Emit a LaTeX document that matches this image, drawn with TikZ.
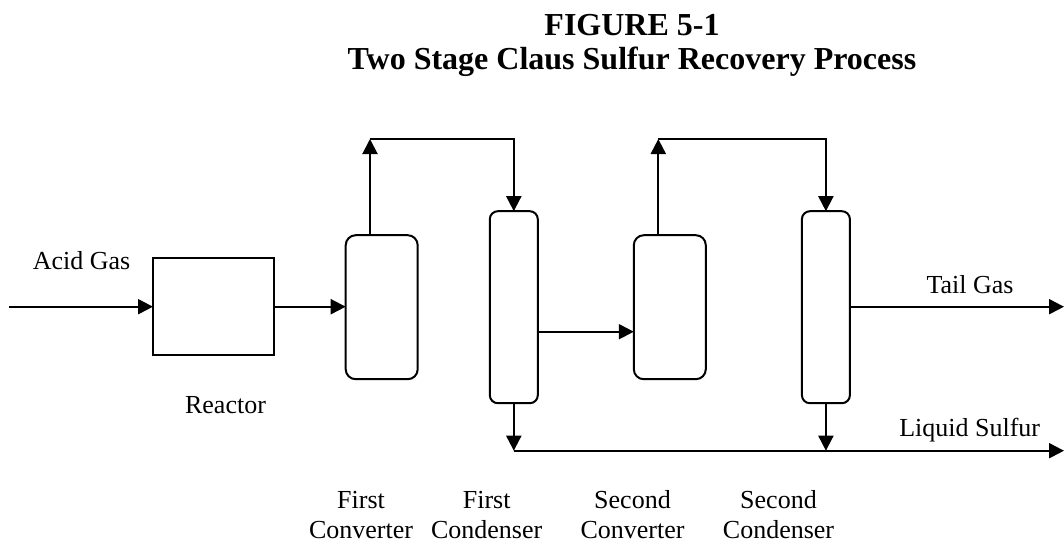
\documentclass[tikz,border=0pt]{standalone}
\usepackage{fontspec}
\setmainfont{Liberation Serif}
\usetikzlibrary{arrows.meta}
\tikzset{
  lbl/.style={font=\fontsize{26}{30}\selectfont, inner sep=0pt, anchor=base},
  ttl/.style={font=\fontsize{32}{34}\selectfont\bfseries, inner sep=0pt, anchor=base},
  vessel/.style={draw, line width=2pt, inner sep=0pt, outer sep=0pt},
  conv/.style={vessel, minimum width=72pt, minimum height=144pt, rounded corners=10pt},
  cond/.style={vessel, minimum width=48pt, minimum height=192pt, rounded corners=8pt},
  flow/.style={line width=2pt, -{Triangle[length=15pt,width=15pt]}},
  pipe/.style={line width=2pt}
}
\begin{document}
\begin{tikzpicture}[x=1pt,y=-1pt]
\useasboundingbox (0,0) rectangle (1064,542);
% title
\node[ttl] (t1) at (632,35) {FIGURE 5-1};
\node[ttl] (t2) at (632,69) {Two Stage Claus Sulfur Recovery Process};
% equipment
\node[vessel, minimum width=121pt, minimum height=97pt] (reactor) at (213.5,306.7) {};
\node[conv] (conv1) at (381.7,307.2) {};
\node[cond] (cond1) at (513.8,307.2) {};
\node[conv] (conv2) at (669.8,307.2) {};
\node[cond] (cond2) at (825.9,307.2) {};
% coordinates
\coordinate (feed) at (9,306.7);
\coordinate (top1) at (370,139);
\coordinate (top2) at (658.3,139);
\coordinate (tail) at (1064,306.7);
\coordinate (sul) at (1064,450.7);
% flows
\draw[flow] (feed) -- (reactor.west);
\draw[flow] (reactor.east) -- (reactor.east -| conv1.west);
\draw[flow] (conv1.north -| top1) -- (top1);
\draw[flow] (top1) -- (top1 -| cond1.north) -- (cond1.north);
\draw[flow] ([yshift=-24.5pt]cond1.east) -- ([yshift=-24.5pt]cond1.east -| conv2.west);
\draw[flow] (conv2.north -| top2) -- (top2);
\draw[flow] (top2) -- (top2 -| cond2.north) -- (cond2.north);
\draw[flow] (cond2.east |- tail) -- (tail);
\draw[flow] (cond1.south) -- (cond1.south |- sul);
\draw[flow] (cond2.south) -- (cond2.south |- sul);
\draw[flow] (cond1.south |- sul) -- (sul);
% labels
\node[lbl] (acid) at (81.5,269) {Acid Gas};
\node[lbl] (reactorlbl) at (225.5,413) {Reactor};
\node[lbl] (taillbl) at (970,293) {Tail Gas};
\node[lbl] (sulfurlbl) at (969.7,436.7) {Liquid Sulfur};
\node[lbl, align=center] (l1) at (361,538) {First\\Converter};
\node[lbl, align=center] (l2) at (486.7,538) {First\\Condenser};
\node[lbl, align=center] (l3) at (632.5,538) {Second\\Converter};
\node[lbl, align=center] (l4) at (778.5,538) {Second\\Condenser};
\end{tikzpicture}
\end{document}
